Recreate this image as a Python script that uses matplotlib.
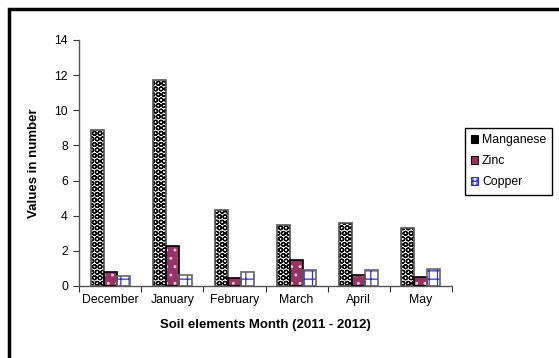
import numpy as np
import matplotlib.pyplot as plt
from matplotlib.patches import Rectangle, Patch

months = ['December', 'January', 'February', 'March', 'April', 'May']
manganese = [8.9, 11.7, 4.3, 3.5, 3.6, 3.3]
zinc = [0.8, 2.3, 0.45, 1.5, 0.6, 0.5]
copper = [0.55, 0.6, 0.8, 0.9, 0.9, 0.95]

plt.rcParams['font.family'] = ['Liberation Sans', 'DejaVu Sans']
plt.rcParams['font.size'] = 8.8
plt.rcParams['hatch.linewidth'] = 0.9

# face, hatch colour, hatch, outline
styles = [
    ('white', 'black', 'OOO', '#555555'),
    ('#993366', '#f0c8dc', '..', 'black'),
    ('white', '#3333cc', '++', '#666666'),
]
series = [manganese, zinc, copper]
names = ['Manganese', 'Zinc', 'Copper']

fig = plt.figure(figsize=(5.59, 3.58), dpi=100)
ax = fig.add_axes([79/559, 1-286/358, (452-79)/559, (286-40)/358])

x = np.arange(len(months))
w = 0.21
for i, (vals, st) in enumerate(zip(series, styles)):
    face, hcol, hatch, edge = st
    pos = x + (i - 1) * w
    ax.bar(pos, vals, w, color=face, linewidth=0, zorder=2)
    ax.bar(pos, vals, w, facecolor='none', edgecolor=hcol, hatch=hatch,
           linewidth=0, zorder=3)
    ax.bar(pos, vals, w, facecolor='none', edgecolor=edge, linewidth=1.2, zorder=4)

ax.set_xlim(-0.5, len(months) - 0.5)
ax.set_ylim(0, 14)
ax.set_yticks(np.arange(0, 15, 2))
ax.set_xticks(np.arange(len(months) + 1) - 0.5)
ax.set_xticklabels([])
ax.set_xticks(x, minor=True)
ax.set_xticklabels(months, minor=True)
ax.tick_params(axis='x', which='major', length=4, direction='out', color='#333333')
ax.tick_params(axis='x', which='minor', length=0, pad=6)
ax.tick_params(axis='y', length=4, direction='out', color='#333333', pad=4)

for s in ['top', 'right']:
    ax.spines[s].set_visible(False)
for s in ['left', 'bottom']:
    ax.spines[s].set_color('#555555')
    ax.spines[s].set_linewidth(1.0)

ax.set_ylabel('Values in number', fontweight='heavy', fontsize=9.5, labelpad=10)
ax.set_xlabel('Soil elements Month (2011 - 2012)', fontweight='heavy',
              fontsize=9.5, labelpad=9)

handles = [
    Patch(facecolor='black', edgecolor='black', linewidth=0.8),
    Patch(facecolor='#993366', edgecolor='black', linewidth=0.8),
    Patch(facecolor='white', edgecolor='#3333cc', hatch='++++', linewidth=0.8),
]
fig.legend(handles, names, loc='upper left', bbox_to_anchor=(465/559, 1-128/358),
           frameon=True, fancybox=False, edgecolor='black', framealpha=1,
           handlelength=0.6, handleheight=0.6, handletextpad=0.3,
           labelspacing=0.75, borderaxespad=0, borderpad=0.5)

# outer chart frame
fig.add_artist(Rectangle((9/559, -0.2), 2, 1.2 - 9/358, transform=fig.transFigure,
                         facecolor='none', edgecolor='black', linewidth=2.5,
                         clip_on=False))

fig.savefig('out.png', dpi=100)
